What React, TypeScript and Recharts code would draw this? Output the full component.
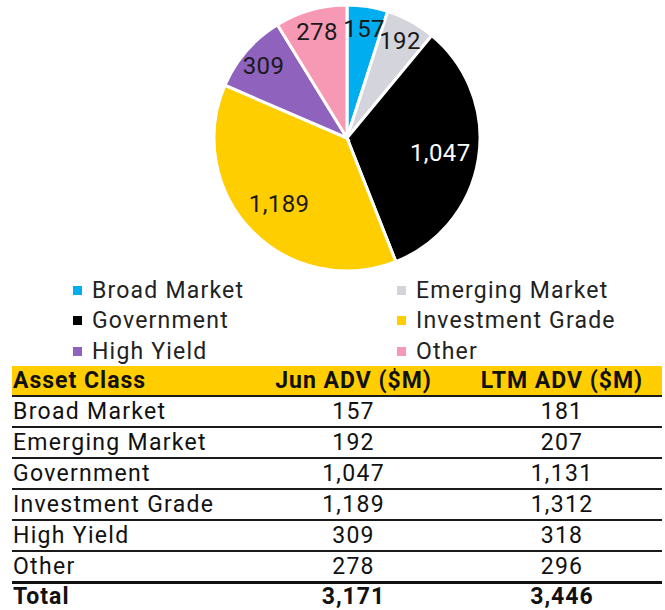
import { PieChart, Pie, Cell, Legend } from 'recharts'

const ASSET_CLASSES = [
  'Broad Market',
  'Emerging Market',
  'Government',
  'Investment Grade',
  'High Yield',
  'Other',
]
const JUN_ADV = [157, 192, 1047, 1189, 309, 278]
const LTM_ADV = [181, 207, 1131, 1312, 318, 296]
const TOTALS = { jun: 3171, ltm: 3446 }
const COLORS = ['#00aeef', '#d4d4dc', '#000000', '#ffce00', '#8f62bd', '#f799b4']
const LABEL_COLORS = ['#1a1a1a', '#1a1a1a', '#ffffff', '#1a1a1a', '#1a1a1a', '#1a1a1a']

const FONT = 'Roboto, "Liberation Sans", sans-serif'
const fmt = (v: number) => v.toLocaleString('en-US')

const RADIAN = Math.PI / 180

// small slices push their label further out, like excel's best fit
function renderLabel(props: any) {
  const { cx, cy, midAngle, outerRadius, index, value, percent } = props
  const r = outerRadius * (percent < 0.15 ? 0.83 : 0.71)
  const x = cx + r * Math.cos(-midAngle * RADIAN)
  const y = cy + r * Math.sin(-midAngle * RADIAN)
  return (
    <text
      x={x}
      y={y}
      fill={LABEL_COLORS[index]}
      textAnchor="middle"
      dominantBaseline="central"
      fontSize={24}
      letterSpacing={0.4}
      fontFamily={FONT}
    >
      {fmt(value)}
    </text>
  )
}

function LegendGrid({ payload }: any) {
  const items = [...(payload ?? [])].sort(
    (a: any, b: any) => ASSET_CLASSES.indexOf(a.value) - ASSET_CLASSES.indexOf(b.value),
  )
  return (
    <div
      style={{
        display: 'grid',
        gridTemplateColumns: '324px 260px',
        fontFamily: FONT,
        fontSize: 23,
        letterSpacing: 1.2,
        color: '#222',
      }}
    >
      {items.map((p: any) => (
        <div key={p.value} style={{ display: 'flex', alignItems: 'center', height: 30.5 }}>
          <span style={{ width: 9, height: 9, background: p.color, marginRight: 10, display: 'inline-block' }} />
          <span>{p.value}</span>
        </div>
      ))}
    </div>
  )
}

const cellBase = { padding: 0, height: 29, lineHeight: '29px' }
const rowLine = '2px solid #1a1a1a'
const headCell = { ...cellBase, letterSpacing: 1 }
const totalCell = { ...headCell, height: 24, lineHeight: '24px', paddingTop: 1 }

export default function App() {
  const data = ASSET_CLASSES.map((name, i) => ({ name, value: JUN_ADV[i] }))

  return (
    <div style={{ position: 'absolute', left: 0, top: 0, width: 665, height: 610, background: '#fff', fontFamily: FONT }}>
      <PieChart width={665} height={366} margin={{ top: 0, right: 0, bottom: 0, left: 0 }}>
        <Pie
          data={data}
          dataKey="value"
          nameKey="name"
          cx={347}
          cy={138}
          outerRadius={133}
          startAngle={90}
          endAngle={-270}
          stroke="#ffffff"
          strokeWidth={3}
          label={renderLabel}
          labelLine={false}
          isAnimationActive={false}
        >
          {data.map((d, i) => (
            <Cell key={d.name} fill={COLORS[i]} />
          ))}
        </Pie>
        <Legend
          content={<LegendGrid />}
          wrapperStyle={{ position: 'absolute', left: 73, top: 275, width: 600 }}
        />
      </PieChart>

      <table
        style={{
          position: 'absolute',
          left: 12,
          top: 366,
          width: 650,
          borderCollapse: 'collapse',
          fontSize: 23,
          letterSpacing: 1.3,
          color: '#111',
          tableLayout: 'fixed',
        }}
      >
        <colgroup>
          <col style={{ width: 233 }} />
          <col style={{ width: 217 }} />
          <col style={{ width: 200 }} />
        </colgroup>
        <thead>
          <tr style={{ background: '#ffcd00', fontWeight: 700, borderBottom: rowLine }}>
            <th style={{ ...headCell, textAlign: 'left', paddingLeft: 1 }}>Asset Class</th>
            <th style={{ ...headCell, textAlign: 'center' }}>Jun ADV ($M)</th>
            <th style={{ ...headCell, textAlign: 'center' }}>LTM ADV ($M)</th>
          </tr>
        </thead>
        <tbody>
          {ASSET_CLASSES.map((name, i) => (
            <tr
              key={name}
              style={{ borderBottom: i === ASSET_CLASSES.length - 1 ? '3px solid #111' : rowLine }}
            >
              <td style={{ ...cellBase, paddingLeft: 1 }}>{name}</td>
              <td style={{ ...cellBase, textAlign: 'center' }}>{fmt(JUN_ADV[i])}</td>
              <td style={{ ...cellBase, textAlign: 'center' }}>{fmt(LTM_ADV[i])}</td>
            </tr>
          ))}
          <tr style={{ fontWeight: 700 }}>
            <td style={{ ...totalCell, paddingLeft: 1 }}>Total</td>
            <td style={{ ...totalCell, textAlign: 'center' }}>{fmt(TOTALS.jun)}</td>
            <td style={{ ...totalCell, textAlign: 'center' }}>{fmt(TOTALS.ltm)}</td>
          </tr>
        </tbody>
      </table>
    </div>
  )
}
